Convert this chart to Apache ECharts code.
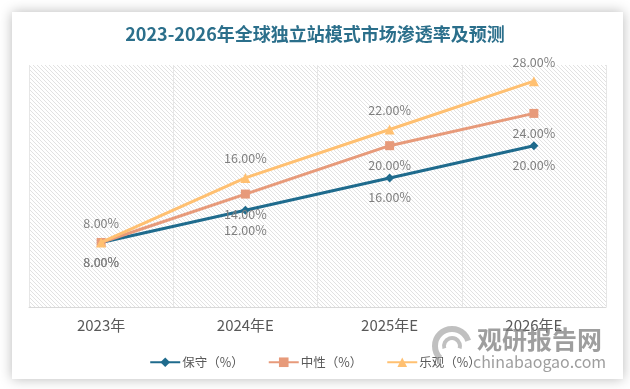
<!DOCTYPE html>
<html>
<head>
<meta charset="utf-8">
<style>
html,body{margin:0;padding:0;background:#fff;}
#c{width:630px;height:389px;}
</style>
<script src="https://cdn.jsdelivr.net/npm/echarts@6/dist/echarts.min.js"></script>
</head>
<body>
<div id="c"></div>
<script>
const titleText = '2023-2026年全球独立站模式市场渗透率及预测';
const categories = ['2023年', '2024年E', '2025年E', '2026年E'];
const seriesNames = ['保守（%）', '中性（%）', '乐观（%）'];
const conservative = [8, 12, 16, 20];
const neutral = [8, 14, 20, 24];
const optimistic = [8, 16, 22, 28];

const FONT = '"Noto Sans CJK SC", "Noto Sans", sans-serif';

// hatch pattern
const pc = document.createElement('canvas');
pc.width = 4; pc.height = 4;
const pctx = pc.getContext('2d');
pctx.fillStyle = '#ffffff';
pctx.fillRect(0, 0, 4, 4);
pctx.strokeStyle = '#e2e2e2';
pctx.lineWidth = 1;
pctx.beginPath();
pctx.moveTo(-1, -1); pctx.lineTo(5, 5);
pctx.moveTo(-1, 3); pctx.lineTo(1, 5);
pctx.moveTo(3, -1); pctx.lineTo(5, 1);
pctx.stroke();

const chart = echarts.init(document.getElementById('c'), null, {renderer: 'canvas'});

const labelCommon = {
  show: true,
  color: '#7f7f7f',
  fontSize: 12.5,
  fontFamily: FONT,
  formatter: p => p.value.toFixed(2) + '%'
};

chart.setOption({
  animation: false,
  backgroundColor: '#ffffff',
  title: {
    text: titleText,
    left: 'center',
    top: 25,
    padding: 0,
    textStyle: {color: '#2b6f8b', fontSize: 18, fontWeight: 'bold', fontFamily: FONT}
  },
  graphic: [
    {
      type: 'rect', z: -10, silent: true,
      shape: {x: 12, y: 12, width: 611, height: 367},
      style: {fill: '#ffffff', shadowBlur: 12, shadowColor: 'rgba(0,0,0,0.28)', shadowOffsetX: 0, shadowOffsetY: 0}
    },
    {
      type: 'arc', z: 100, silent: true,
      shape: {cx: 452, cy: 346, r: 17, startAngle: Math.PI * 0.75, endAngle: Math.PI * 1.9},
      style: {stroke: 'rgba(140,140,140,0.55)', lineWidth: 6, fill: null}
    },
    {
      type: 'arc', z: 100, silent: true,
      shape: {cx: 452, cy: 346, r: 8, startAngle: Math.PI * 0.9, endAngle: Math.PI * 2.1},
      style: {stroke: 'rgba(140,140,140,0.55)', lineWidth: 4, fill: null}
    },
    {
      type: 'text', z: 100, silent: true,
      style: {x: 477, y: 339, text: '观研报告网', fill: 'rgba(125,125,125,0.75)', font: 'bold 25px ' + FONT, textVerticalAlign: 'middle'}
    },
    {
      type: 'text', z: 100, silent: true,
      style: {x: 473, y: 362, text: 'chinabaogao.com', fill: 'rgba(125,125,125,0.75)', font: '16px ' + FONT, textVerticalAlign: 'middle'}
    }
  ],
  legend: {
    data: seriesNames,
    left: 'center',
    top: 351,
    itemWidth: 30,
    itemHeight: 12,
    itemGap: 24,
    textStyle: {color: '#595959', fontSize: 12.5, fontFamily: FONT, padding: [0, 0, 0, -3]}
  },
  grid: {
    left: 29, right: 24, top: 65, bottom: 82,
    show: true,
    borderWidth: 0,
    backgroundColor: {image: pc, repeat: 'repeat'}
  },
  xAxis: {
    type: 'category',
    data: categories,
    boundaryGap: true,
    axisLine: {show: true, lineStyle: {color: '#d9d9d9', width: 1}},
    axisTick: {show: false},
    axisLabel: {color: '#595959', fontSize: 15, fontFamily: FONT, margin: 11},
    splitLine: {show: true, lineStyle: {color: '#e6e6e6', width: 1}}
  },
  yAxis: {
    type: 'value',
    min: 0, max: 30,
    show: false,
    splitLine: {show: false}
  },
  series: [
    {
      name: seriesNames[0], type: 'line', data: conservative,
      symbol: 'diamond', symbolSize: 9,
      lineStyle: {width: 3, color: '#1f6b8d'},
      itemStyle: {color: '#1f6b8d'},
      label: Object.assign({}, labelCommon, {position: 'bottom', distance: 9}),
      z: 3
    },
    {
      name: seriesNames[1], type: 'line', data: neutral,
      symbol: 'rect', symbolSize: 9,
      lineStyle: {width: 3, color: '#e79a7a'},
      itemStyle: {color: '#e79a7a'},
      label: Object.assign({}, labelCommon, {position: 'bottom', distance: 9}),
      z: 4
    },
    {
      name: seriesNames[2], type: 'line', data: optimistic,
      symbol: 'triangle', symbolSize: 10,
      lineStyle: {width: 3, color: '#ffc071'},
      itemStyle: {color: '#ffc071'},
      label: Object.assign({}, labelCommon, {position: 'top', distance: 8}),
      z: 5
    }
  ]
});
</script>
</body>
</html>
